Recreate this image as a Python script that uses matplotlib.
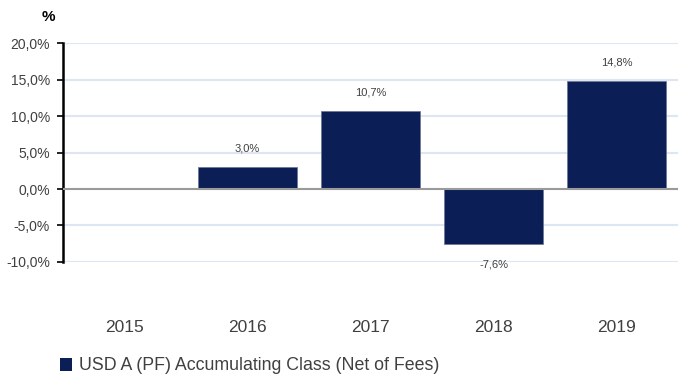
import numpy as np
import matplotlib
matplotlib.use("Agg")
import matplotlib.pyplot as plt
from matplotlib.patches import Rectangle

years = ["2015", "2016", "2017", "2018", "2019"]
returns = [np.nan, 3.0, 10.7, -7.6, 14.8]
value_labels = ["", "3,0%", "10,7%", "-7,6%", "14,8%"]
y_ticks = [-10, -5, 0, 5, 10, 15, 20]
y_tick_labels = ["-10,0%", "-5,0%", "0,0%", "5,0%", "10,0%", "15,0%", "20,0%"]
series_name = "USD A (PF) Accumulating Class (Net of Fees)"

navy = "#0b1f56"
text_grey = "#404040"
grid_blue = "#dde6f3"

plt.rcParams["font.family"] = ["Liberation Sans", "DejaVu Sans"]

fig = plt.figure(figsize=(6.78, 3.78), dpi=100)
ax = fig.add_axes([0.093, 0.307, 0.907, 0.579])

x = np.arange(len(years))
ax.bar(x, returns, width=0.8, color=navy, edgecolor="#6a7590", linewidth=0.5, zorder=3)

ax.set_xlim(-0.5, 4.5)
ax.set_ylim(-10, 20)
ax.set_yticks(y_ticks)
ax.set_yticklabels(y_tick_labels, fontsize=10, color=text_grey)
ax.set_xticks(x)
ax.set_xticklabels(years, fontsize=12.5, color=text_grey)
ax.tick_params(axis="x", length=0, pad=42)
ax.tick_params(axis="y", length=4, width=1.2, color="black", pad=5.5)

for y in y_ticks:
    if y != 0:
        ax.axhline(y, color=grid_blue, linewidth=1.5, zorder=1)
ax.axhline(0, color="#9a9a9a", linewidth=1.5, zorder=4)

for s in ["top", "right", "bottom"]:
    ax.spines[s].set_visible(False)
ax.spines["left"].set_linewidth(1.8)
ax.spines["left"].set_color("black")

for xi, v, lab in zip(x, returns, value_labels):
    if np.isnan(v):
        continue
    if v >= 0:
        ax.annotate(lab, (xi, v), xytext=(0, 9.5), textcoords="offset points",
                    ha="center", va="bottom", fontsize=8, color=text_grey)
    else:
        ax.annotate(lab, (xi, v), xytext=(0, -11), textcoords="offset points",
                    ha="center", va="top", fontsize=8, color=text_grey)

fig.text(48 / 678, 1 - 17 / 378, "%", fontsize=11, fontweight="bold",
         ha="center", va="center", color="black")

# legend entry
fig.patches.append(Rectangle((60 / 678, 1 - 371 / 378), 12 / 678, 13 / 378,
                             transform=fig.transFigure, facecolor=navy,
                             edgecolor="none"))
fig.text(79 / 678, 1 - 365 / 378, series_name, fontsize=12.8, color=text_grey,
         ha="left", va="center")

fig.savefig("out.png", dpi=100)
